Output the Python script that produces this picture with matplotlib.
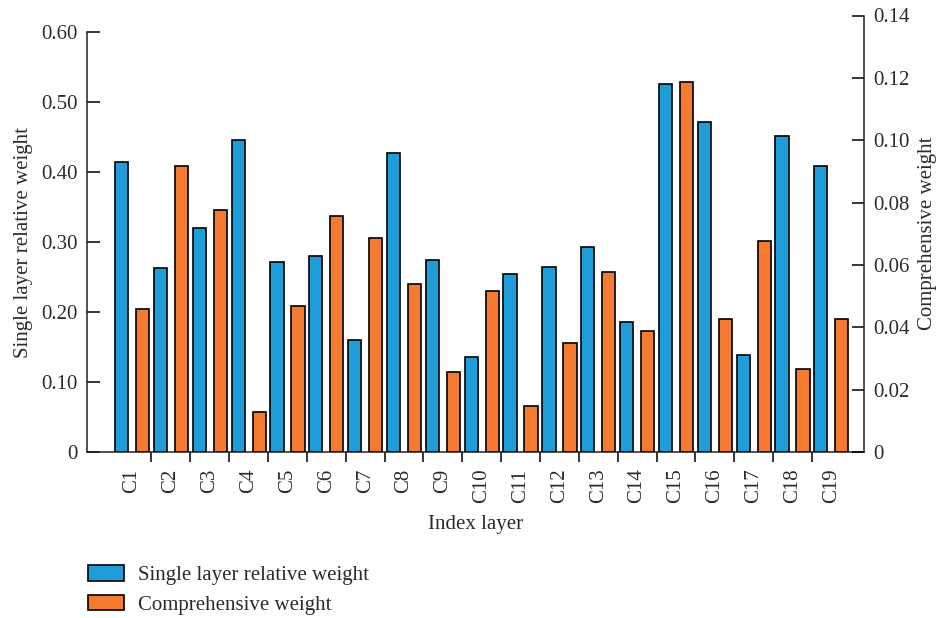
import matplotlib
matplotlib.use("Agg")
import matplotlib.pyplot as plt
import numpy as np

categories = ["C1", "C2", "C3", "C4", "C5", "C6", "C7", "C8", "C9", "C10",
              "C11", "C12", "C13", "C14", "C15", "C16", "C17", "C18", "C19"]
single_layer = [0.414, 0.263, 0.320, 0.446, 0.271, 0.280, 0.160, 0.427, 0.274, 0.136,
                0.254, 0.264, 0.293, 0.186, 0.526, 0.471, 0.138, 0.451, 0.408]
comprehensive = [0.0459, 0.0918, 0.0777, 0.0128, 0.0469, 0.0758, 0.0687, 0.0540, 0.0257, 0.0517,
                 0.0148, 0.0350, 0.0578, 0.0389, 0.1188, 0.0427, 0.0678, 0.0267, 0.0427]
left_ticks = [0, 0.10, 0.20, 0.30, 0.40, 0.50, 0.60]
left_tick_labels = ["0", "0.10", "0.20", "0.30", "0.40", "0.50", "0.60"]
right_ticks = [0, 0.02, 0.04, 0.06, 0.08, 0.10, 0.12, 0.14]
right_tick_labels = ["0", "0.02", "0.04", "0.06", "0.08", "0.10", "0.12", "0.14"]

plt.rcParams['font.family'] = ['Liberation Serif', 'DejaVu Serif']
TXT = '#2b2b2b'
BLUE = '#1E9DD8'
ORANGE = '#F47B30'
FS = 15

fig = plt.figure(figsize=(9.4, 6.18), dpi=100)
ax = fig.add_axes([87/940, 1 - 452/618, (864-87)/940, (452-15.5)/618])
ax2 = ax.twinx()

x = np.arange(len(categories))
off = 0.27
w = 0.34
b1 = ax.bar(x - off, single_layer, width=w, color=BLUE, edgecolor='black', linewidth=1.2,
            label='Single layer relative weight', zorder=3)
b2 = ax2.bar(x + off, comprehensive, width=w, color=ORANGE, edgecolor='black', linewidth=1.2,
             label='Comprehensive weight', zorder=3)

ax.set_xlim(-1.16, 18.84)
ax.set_ylim(0, 436.5/700)
ax2.set_ylim(0, 0.14)

for a in (ax, ax2):
    a.spines['top'].set_visible(False)
ax.spines['right'].set_visible(False)
ax2.spines['left'].set_visible(False)
ax2.spines['bottom'].set_visible(False)
ax.spines['left'].set_bounds(0, 0.6)
for a in (ax, ax2):
    for s in a.spines.values():
        s.set_linewidth(1.1)
        s.set_color('#222222')

ax.set_yticks(left_ticks)
ax.set_yticklabels(left_tick_labels)
ax2.set_yticks(right_ticks)
ax2.set_yticklabels(right_tick_labels)
ax.tick_params(axis='y', direction='in', length=9, width=1.1, pad=7, labelsize=FS, labelcolor=TXT)
ax2.tick_params(axis='y', direction='in', length=9, width=1.1, pad=6.5, labelsize=FS, labelcolor=TXT)

ax.set_xticks(x[:-1] + 0.5)
ax.set_xticklabels([])
ax.set_xticks(x, minor=True)
ax.set_xticklabels(categories, minor=True, rotation=90)
ax.tick_params(axis='x', which='major', direction='out', length=7, width=1.1)
ax.tick_params(axis='x', which='minor', length=0, pad=12, labelsize=FS, labelcolor=TXT)

ax.set_xlabel('Index layer', fontsize=FS, color=TXT, labelpad=8)
ax.set_ylabel('Single layer relative weight', fontsize=FS, color=TXT)
ax.yaxis.set_label_coords(-0.069, 0.481)
ax2.set_ylabel('Comprehensive weight', fontsize=FS, color=TXT)
ax2.yaxis.set_label_coords(1.069, 0.5)

leg = fig.legend(handles=[b1, b2], loc='upper left', bbox_to_anchor=(80/940, 1 - 557/618),
                 frameon=False, fontsize=FS, handlelength=1.73, handleheight=0.77,
                 handletextpad=0.67, labelspacing=0.44, borderaxespad=0)
for t in leg.get_texts():
    t.set_color(TXT)

fig.savefig('out.png', dpi=100)
